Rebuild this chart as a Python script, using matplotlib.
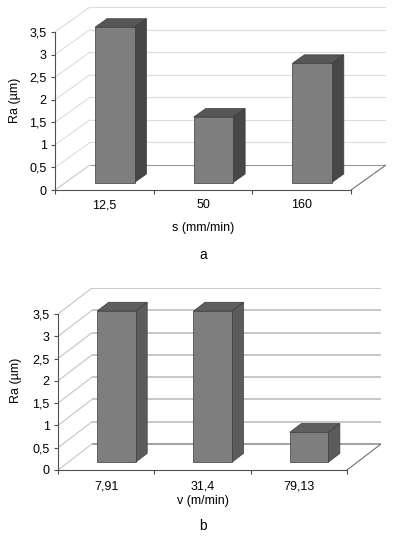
import matplotlib
matplotlib.use("Agg")
import matplotlib.pyplot as plt
from matplotlib.patches import Polygon
from matplotlib.ticker import FuncFormatter

plt.rcParams['font.family'] = ['Liberation Sans', 'DejaVu Sans']

# ---- data ----
cats_a = ["12,5", "50", "160"]
vals_a = [3.44, 1.45, 2.64]
xlabel_a = "s (mm/min)"

cats_b = ["7,91", "31,4", "79,13"]
vals_b = [3.39, 3.39, 0.67]
xlabel_b = "v (m/min)"

ylabel = "Ra (µm)"
yticks = [0, 0.5, 1, 1.5, 2, 2.5, 3, 3.5]

W, H = 399, 536
fig = plt.figure(figsize=(W / 100, H / 100), dpi=100)
fig.patch.set_facecolor("white")
FS = 9


def fx(px):
    return px / W


def fy(py):
    return 1 - py / H


def draw(cats, vals, xlabel, panel, L, R, y0, y35, dxp, dyp,
         grid_col, grid_lw, side_col, top_col, tick_y, xlab_y, ylab_x, ylab_y, panel_y):
    n = len(cats)
    ppc = (R - L) / n            # pixels per category
    ppu = (y0 - y35) / 3.5       # pixels per Ra unit
    ddx = dxp / ppc
    ddy = dyp / ppu
    ax = fig.add_axes([fx(L), fy(y0), (R - L + dxp) / W, (y0 - y35 + dyp) / H])
    ax.set_xlim(0, n + ddx)
    ax.set_ylim(0, 3.5 + ddy)
    ax.patch.set_alpha(0)

    # back wall gridlines and side wall diagonals
    for v in yticks:
        col = grid_col if v > 0 else "#9a9a9a"
        ax.plot([ddx, n + ddx], [v + ddy, v + ddy], color=col, lw=grid_lw, zorder=1,
                solid_capstyle="butt")
        ax.plot([0, ddx], [v, v + ddy], color=grid_col if v > 0 else "#c8c8c8",
                lw=0.8, zorder=1)
    # floor right edge
    ax.plot([n, n + ddx], [0, ddy], color="#707070", lw=0.8, zorder=1)

    # bars
    f, bd, bw = 0.30, 0.34, 0.40
    for i, v in enumerate(vals):
        x0 = i + 0.5 - bw / 2
        xf, yf = x0 + f * ddx, f * ddy
        xb, yb = x0 + (f + bd) * ddx, (f + bd) * ddy
        ax.add_patch(Polygon([(xf, v + yf), (xf + bw, v + yf), (xb + bw, v + yb), (xb, v + yb)],
                             closed=True, facecolor=top_col, edgecolor="#3a3a3a", lw=0.5, zorder=3))
        ax.add_patch(Polygon([(xf + bw, yf), (xb + bw, yb), (xb + bw, v + yb), (xf + bw, v + yf)],
                             closed=True, facecolor=side_col, edgecolor="#3a3a3a", lw=0.5, zorder=3))
    ax.bar([i + 0.5 + f * ddx for i in range(n)], vals, bottom=f * ddy, width=bw,
           color="#7e7e7e", edgecolor="#3a3a3a", lw=0.5, zorder=4)

    # axes styling
    for s in ["top", "right"]:
        ax.spines[s].set_visible(False)
    for s in ["left", "bottom"]:
        ax.spines[s].set_color("#505050")
        ax.spines[s].set_linewidth(0.8)
    ax.spines["left"].set_bounds(0, 3.5)
    ax.spines["bottom"].set_bounds(0, n)
    ax.set_yticks(yticks)
    ax.yaxis.set_major_formatter(FuncFormatter(lambda v, p: f"{v:g}".replace(".", ",")))
    ax.tick_params(axis="y", length=3, width=0.8, color="#505050", labelsize=FS, pad=3)
    ax.set_xticks(range(n + 1))
    ax.set_xticklabels([])
    ax.tick_params(axis="x", which="major", length=3, width=0.8, color="#505050")
    ax.set_xticks([i + 0.5 for i in range(n)], minor=True)
    ax.set_xticklabels(cats, minor=True)
    ax.tick_params(axis="x", which="minor", length=0, labelsize=FS, pad=tick_y)

    ax.set_xlabel(xlabel, fontsize=FS, va="center")
    ax.xaxis.set_label_coords(fx((L + R) / 2), fy(xlab_y), transform=fig.transFigure)
    ax.set_ylabel(ylabel, fontsize=FS, va="center")
    ax.yaxis.set_label_coords(fx(ylab_x), fy(ylab_y), transform=fig.transFigure)
    fig.text(fx((L + R) / 2), fy(panel_y), panel, fontsize=10, ha="center", va="center")


draw(cats_a, vals_a, xlabel_a, "a", L=55, R=351, y0=190, y35=32, dxp=35, dyp=25,
     grid_col="#dcdcdc", grid_lw=0.8, side_col="#474747", top_col="#575757",
     tick_y=6.5, xlab_y=228, ylab_x=15, ylab_y=100, panel_y=255)
draw(cats_b, vals_b, xlabel_b, "b", L=58, R=347, y0=470, y35=314, dxp=34, dyp=26,
     grid_col="#c4c4c4", grid_lw=1.3, side_col="#5c5c5c", top_col="#5e5e5e",
     tick_y=7.5, xlab_y=501, ylab_x=16, ylab_y=380, panel_y=526)

fig.savefig("out.png", dpi=100)
